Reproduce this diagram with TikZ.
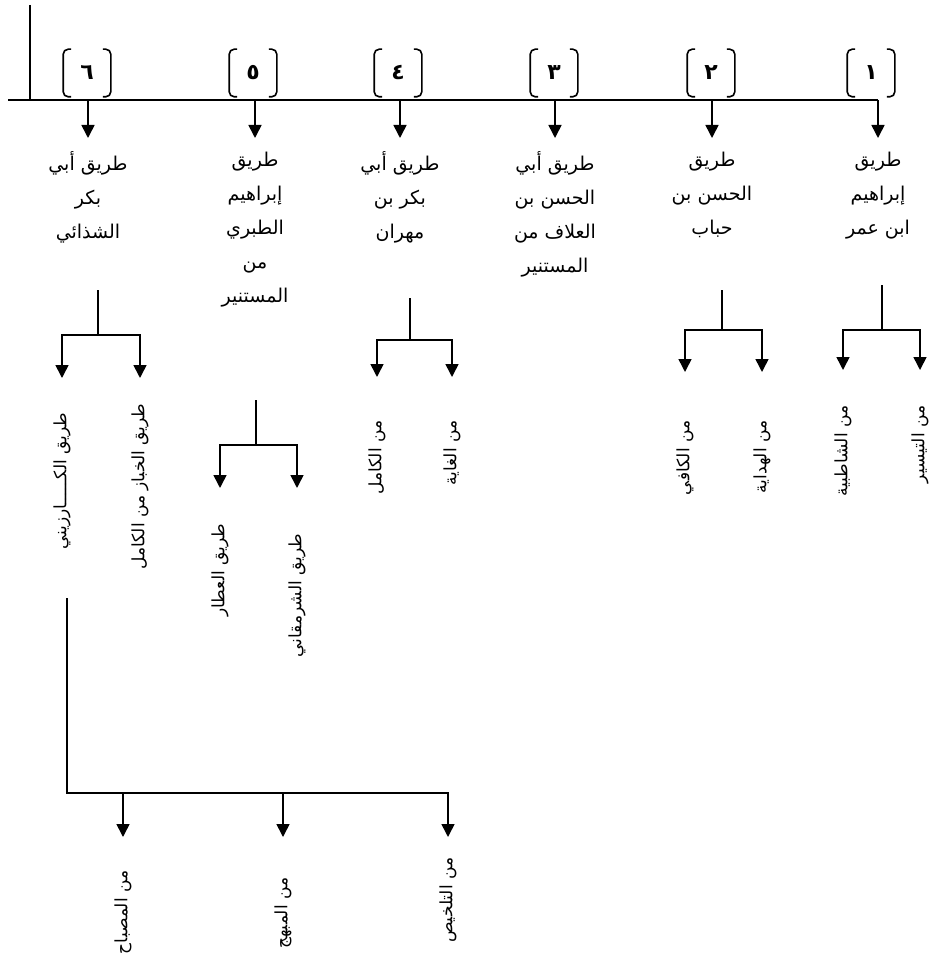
\documentclass[tikz,border=0pt]{standalone}
\usepackage{fontspec}
\usepackage{tikz}
\usetikzlibrary{arrows.meta,positioning,calc}
\TeXXeTstate=1
\newfontfamily\arabicfont[Script=Arabic]{DejaVu Sans}
\newcommand{\rl}[1]{\beginR #1\endR}

\begin{document}
\begin{tikzpicture}[x=1pt, y=-1pt, line width=1.6pt, >={Triangle[width=13pt,length=13pt]},
    head/.style={anchor=north, align=center, inner sep=1pt, font=\arabicfont\fontsize{19}{34}\selectfont},
    leaf/.style={anchor=east, rotate=90, inner sep=0pt, font=\arabicfont\fontsize{17}{20}\selectfont},
    num/.style={minimum width=46pt, minimum height=46pt, inner sep=0pt, font=\arabicfont\bfseries\fontsize{22}{24}\selectfont}]
  \useasboundingbox (0,0) rectangle (932,965);

  % main line with the six numbered branches
  \coordinate (lineL) at (8,100);
  \coordinate (lineR) at (878,100);
  \coordinate (postT) at (30,5);
  \draw (postT) -- (postT |- lineL);
  \draw (lineL) -- (lineR);

  \node[num] (n1) at (871,73) {١};
  \node[num] (n2) at (711,73) {٢};
  \node[num] (n3) at (554,73) {٣};
  \node[num] (n4) at (398,73) {٤};
  \node[num] (n5) at (253,73) {٥};
  \node[num] (n6) at (87,73) {٦};
  \foreach \i in {1,...,6} {
    \draw[rounded corners=5pt] ([xshift=8pt]n\i.north west) -- (n\i.north west) -- (n\i.south west) -- ([xshift=8pt]n\i.south west);
    \draw[rounded corners=5pt] ([xshift=-8pt]n\i.north east) -- (n\i.north east) -- (n\i.south east) -- ([xshift=-8pt]n\i.south east);
  }

  \node[head] (h1) at (878,150) {\rl{طريق}\\\rl{إبراهيم}\\\rl{ابن عمر}};
  \node[head] (h2) at (712,150) {\rl{طريق}\\\rl{الحسن بن}\\\rl{حباب}};
  \node[head] (h3) at (555,150) {\rl{طريق أبي}\\\rl{الحسن بن}\\\rl{العلاف من}\\\rl{المستنير}};
  \node[head] (h4) at (400,150) {\rl{طريق أبي}\\\rl{بكر بن}\\\rl{مهران}};
  \node[head] (h5) at (255,150) {\rl{طريق}\\\rl{إبراهيم}\\\rl{الطبري}\\\rl{من}\\\rl{المستنير}};
  \node[head] (h6) at (88,150) {\rl{طريق أبي}\\\rl{بكر}\\\rl{الشذائي}};
  \foreach \i in {1,...,6}
    \draw[->] (h\i.north |- lineL) -- ([yshift=12pt]h\i.north);

  % branch 1
  \coordinate (s1) at (882,285);
  \coordinate (f1) at (882,330);
  \coordinate (t1) at (0,370);
  \node[leaf] (l1a) at (843,405) {\rl{من الشاطبية}};
  \node[leaf] (l1b) at (920,405) {\rl{من التيسير}};
  \draw (s1) -- (f1);
  \draw[->] (f1) -| (l1a.east |- t1);
  \draw[->] (f1) -| (l1b.east |- t1);

  % branch 2
  \coordinate (s2) at (722,290);
  \coordinate (f2) at (722,330);
  \coordinate (t2) at (0,372);
  \node[leaf] (l2a) at (685,420) {\rl{من الكافي}};
  \node[leaf] (l2b) at (762,420) {\rl{من الهداية}};
  \draw (s2) -- (f2);
  \draw[->] (f2) -| (l2a.east |- t2);
  \draw[->] (f2) -| (l2b.east |- t2);

  % branch 4
  \coordinate (s4) at (410,298);
  \coordinate (f4) at (410,340);
  \coordinate (t4) at (0,377);
  \node[leaf] (l4a) at (377,420) {\rl{من الكامل}};
  \node[leaf] (l4b) at (452,420) {\rl{من الغاية}};
  \draw (s4) -- (f4);
  \draw[->] (f4) -| (l4a.east |- t4);
  \draw[->] (f4) -| (l4b.east |- t4);

  % branch 5
  \coordinate (s5) at (256,400);
  \coordinate (f5) at (256,445);
  \coordinate (t5) at (0,488);
  \node[leaf] (l5a) at (220,523) {\rl{طريق العطار}};
  \node[leaf] (l5b) at (297,533) {\rl{طريق الشرمقاني}};
  \draw (s5) -- (f5);
  \draw[->] (f5) -| (l5a.east |- t5);
  \draw[->] (f5) -| (l5b.east |- t5);

  % branch 6
  \coordinate (s6) at (98,290);
  \coordinate (f6) at (98,335);
  \coordinate (t6) at (0,378);
  \node[leaf] (l6a) at (62,412) {\rl{طريق الكـــــارزيني}};
  \node[leaf] (l6b) at (140,403) {\rl{طريق الخباز من الكامل}};
  \draw (s6) -- (f6);
  \draw[->] (f6) -| (l6a.east |- t6);
  \draw[->] (f6) -| (l6b.east |- t6);

  % sources of al-Karzini
  \coordinate (k0) at (67,598);
  \coordinate (k1) at (67,793);
  \coordinate (kt) at (0,837);
  \node[leaf] (m1) at (123,870) {\rl{من المصباح}};
  \node[leaf] (m2) at (283,877) {\rl{من المبهج}};
  \node[leaf] (m3) at (448,857) {\rl{من التلخيص}};
  \draw[->] (k0) |- (m3.east |- k1) -- (m3.east |- kt);
  \draw[->] (m1.east |- k1) -- (m1.east |- kt);
  \draw[->] (m2.east |- k1) -- (m2.east |- kt);
\end{tikzpicture}
\end{document}
